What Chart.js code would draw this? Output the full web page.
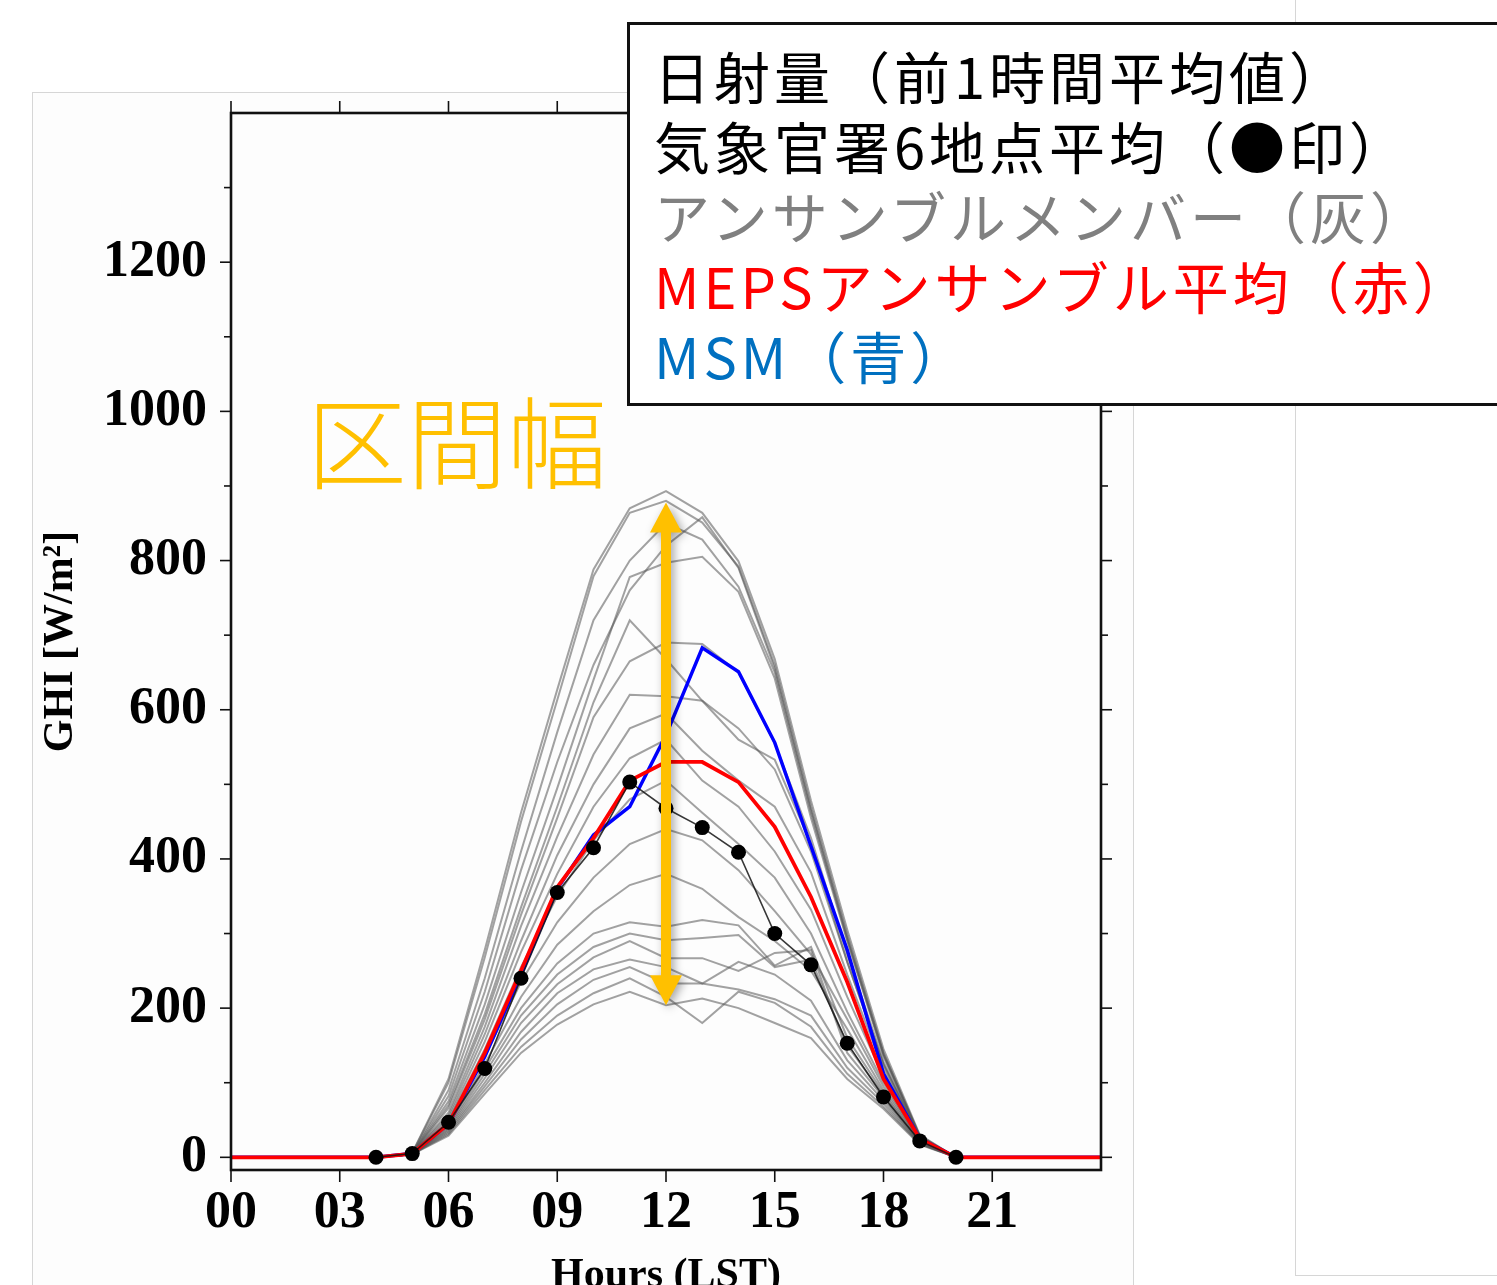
<!DOCTYPE html>
<html>
<head>
<meta charset="utf-8">
<script src="https://cdn.jsdelivr.net/npm/chart.js@4.4.1/dist/chart.umd.min.js"></script>
<style>
  html, body { margin: 0; padding: 0; width: 1497px; height: 1285px; overflow: hidden; background: #ffffff; }
  .panel { position: absolute; box-sizing: border-box; border: 1px solid #d6d6d6; }
  #leftPanel { left: 32px; top: 92px; width: 1102px; height: 1300px; background: #fdfdfd; }
  #rightPanel { left: 1295px; top: -2px; width: 220px; height: 1278px; background: #ffffff; }
  #chartBox { position: absolute; left: 0; top: 0; width: 1497px; height: 1320px; }
  #legendBox {
    position: absolute; left: 627px; top: 22px; width: 900px; height: 384px;
    box-sizing: border-box; border: 3px solid #111; background: #ffffff;
    padding: 15px 0 0 24px;
    font-family: "Noto Sans CJK JP", "Noto Sans", sans-serif; font-size: 56px; line-height: 70px;
    letter-spacing: 4px; white-space: nowrap;
  }
  #spanLabel {
    position: absolute; left: 307px; top: 388px;
    font-family: "Noto Sans CJK JP", sans-serif; font-weight: 300; font-size: 100px; line-height: 1;
    color: #ffc000;
  }
</style>
</head>
<body>
<div id="leftPanel" class="panel"></div>
<div id="rightPanel" class="panel"></div>
<div id="chartBox"><canvas id="ghi" width="1497" height="1320"></canvas></div>
<div id="spanLabel">区間幅</div>
<div id="legendBox">
  <div style="color:#000000">日射量（前1時間平均値）</div>
  <div style="color:#000000">気象官署6地点平均（●印）</div>
  <div style="color:#808080">アンサンブルメンバー（灰）</div>
  <div style="color:#ff0000">MEPSアンサンブル平均（赤）</div>
  <div style="color:#0070c0">MSM（青）</div>
</div>
<script>
// Hours of the day (LST)
const hours = [0,1,2,3,4,5,6,7,8,9,10,11,12,13,14,15,16,17,18,19,20,21,22,23,24];
const xTickHours = [0,3,6,9,12,15,18,21];
const yTickValues = [0,200,400,600,800,1000,1200];
const yMinorTicks = [0,100,200,300,400,500,600,700,800,900,1000,1100,1200,1300];

// Observed GHI, mean of 6 JMA stations [W/m2]
const obsMean = [null,null,null,null,0,5,47,119,240,355,415,503,468,442,409,300,258,153,81,22,0,null,null,null,null];
// MEPS ensemble mean
const mepsMean = [0,0,0,0,0,5,45,140,250,362,428,505,530,530,503,443,349,235,105,25,0,0,0,0,0];
// MSM deterministic forecast
const msm = [0,0,0,0,0,5,45,135,245,360,432,470,566,683,651,556,417,278,112,25,0,0,0,0,0];

// MEPS ensemble members
const member01 = [0,0,0,0,0,6,105,278,462,627,788,870,893,864,799,668,478,305,145,30,0,0,0,0,0];
const member02 = [0,0,0,0,0,6,100,268,450,613,779,864,880,851,792,660,470,298,140,29,0,0,0,0,0];
const member03 = [0,0,0,0,0,5,90,240,410,570,720,800,850,828,765,650,462,292,138,28,0,0,0,0,0];
const member04 = [0,0,0,0,0,5,82,222,385,530,660,760,820,858,790,655,466,295,138,28,0,0,0,0,0];
const member05 = [0,0,0,0,0,5,75,205,355,495,640,778,797,805,758,642,455,290,135,27,0,0,0,0,0];
const member06 = [0,0,0,0,0,5,70,192,335,470,610,720,668,612,560,533,420,262,125,26,0,0,0,0,0];
const member07 = [0,0,0,0,0,5,66,185,325,455,590,665,690,688,650,555,428,272,128,26,0,0,0,0,0];
const member08 = [0,0,0,0,0,5,60,175,310,430,540,620,618,612,575,520,410,262,124,25,0,0,0,0,0];
const member09 = [0,0,0,0,0,5,56,165,290,405,500,575,595,545,505,470,382,245,118,24,0,0,0,0,0];
const member10 = [0,0,0,0,0,5,52,155,275,380,470,535,560,505,470,410,332,215,108,23,0,0,0,0,0];
const member11 = [0,0,0,0,0,4,49,145,255,350,425,480,505,462,420,375,300,195,100,22,0,0,0,0,0];
const member12 = [0,0,0,0,0,4,46,135,235,315,375,420,440,425,385,330,272,185,95,22,0,0,0,0,0];
const member13 = [0,0,0,0,0,4,43,125,215,285,330,365,380,360,322,290,250,172,90,21,0,0,0,0,0];
const member14 = [0,0,0,0,0,4,41,118,200,260,300,315,309,318,311,257,282,160,86,20,0,0,0,0,0];
const member15 = [0,0,0,0,0,4,39,112,190,245,282,300,291,294,298,255,265,150,83,20,0,0,0,0,0];
const member16 = [0,0,0,0,0,4,37,106,180,232,268,290,267,267,250,274,278,140,80,19,0,0,0,0,0];
const member17 = [0,0,0,0,0,4,35,100,168,220,252,265,255,233,262,245,210,130,76,19,0,0,0,0,0];
const member18 = [0,0,0,0,0,4,33,95,158,205,238,255,233,233,225,212,190,120,72,18,0,0,0,0,0];
const member19 = [0,0,0,0,0,4,31,90,148,190,220,240,215,180,222,207,175,112,68,18,0,0,0,0,0];
const member20 = [0,0,0,0,0,4,29,85,140,178,205,222,204,213,200,180,160,105,65,17,0,0,0,0,0];
const members = [member01,member02,member03,member04,member05,member06,member07,member08,member09,member10,
                 member11,member12,member13,member14,member15,member16,member17,member18,member19,member20];

// Spread arrow at noon: [hour, lower value, upper value]
const spreadArrow = [12, 204, 878];

const toPoints = vals => hours.map((h, i) => ({ x: h, y: vals[i] }));

const datasets = [
  { label: 'obs', data: toPoints(obsMean), borderColor: 'rgba(20,20,20,0.85)', borderWidth: 1.6,
    pointRadius: 7.5, pointBackgroundColor: '#000', pointBorderColor: '#000', pointBorderWidth: 0, order: 0 },
  { label: 'MEPS mean', data: toPoints(mepsMean), borderColor: '#ff0000', borderWidth: 3.8, pointRadius: 0, order: 1 },
  { label: 'MSM', data: toPoints(msm), borderColor: '#0000ff', borderWidth: 3.5, pointRadius: 0, order: 2 }
];
members.forEach((m, i) => datasets.push({
  label: 'member ' + (i + 1), data: toPoints(m), borderColor: 'rgba(85,85,85,0.55)', borderWidth: 2,
  pointRadius: 0, order: 3
}));

const serif = '"Liberation Serif", "Times New Roman", serif';

function strokeLine(ctx, x1, y1, x2, y2) {
  ctx.beginPath(); ctx.moveTo(x1, y1); ctx.lineTo(x2, y2); ctx.stroke();
}

// Orange double-headed arrow marking the ensemble spread
const spreadPlugin = {
  id: 'spread',
  afterDatasetsDraw(chart) {
    const { ctx, scales: { x, y } } = chart;
    const cx = x.getPixelForValue(spreadArrow[0]);
    const yBot = y.getPixelForValue(spreadArrow[1]);
    const yTop = y.getPixelForValue(spreadArrow[2]);
    const head = 30, halfHead = 16, halfShaft = 5;
    ctx.save();
    ctx.shadowColor = 'rgba(0,0,0,0.35)';
    ctx.shadowBlur = 10; ctx.shadowOffsetX = 3; ctx.shadowOffsetY = 3;
    ctx.fillStyle = '#ffc000';
    ctx.beginPath();
    ctx.moveTo(cx, yTop);
    ctx.lineTo(cx + halfHead, yTop + head);
    ctx.lineTo(cx + halfShaft, yTop + head);
    ctx.lineTo(cx + halfShaft, yBot - head);
    ctx.lineTo(cx + halfHead, yBot - head);
    ctx.lineTo(cx, yBot);
    ctx.lineTo(cx - halfHead, yBot - head);
    ctx.lineTo(cx - halfShaft, yBot - head);
    ctx.lineTo(cx - halfShaft, yTop + head);
    ctx.lineTo(cx - halfHead, yTop + head);
    ctx.closePath();
    ctx.fill();
    ctx.restore();
  }
};

// Box frame with outward ticks on all four sides
const framePlugin = {
  id: 'frame',
  afterDraw(chart) {
    const { ctx, chartArea: a, scales: { x, y } } = chart;
    ctx.save();
    ctx.strokeStyle = '#111';
    ctx.lineWidth = 1.6;
    yMinorTicks.forEach(v => {
      const py = y.getPixelForValue(v);
      const len = v % 200 === 0 ? 11 : 7;
      strokeLine(ctx, a.left - len, py, a.left, py);
      strokeLine(ctx, a.right, py, a.right + len, py);
    });
    xTickHours.forEach(h => {
      const px = x.getPixelForValue(h);
      strokeLine(ctx, px, a.bottom, px, a.bottom + 12);
      strokeLine(ctx, px, a.top - 12, px, a.top);
    });
    ctx.lineWidth = 2.6;
    ctx.strokeRect(a.left, a.top, a.right - a.left, a.bottom - a.top);
    ctx.restore();
  }
};

new Chart(document.getElementById('ghi'), {
  type: 'line',
  data: { datasets },
  options: {
    responsive: false,
    animation: false,
    layout: { padding: { left: 0, top: 113, right: 396, bottom: 0 } },
    plugins: { legend: { display: false }, tooltip: { enabled: false } },
    elements: { line: { tension: 0 } },
    scales: {
      x: {
        type: 'linear', min: 0, max: 24,
        afterBuildTicks: s => { s.ticks = xTickHours.map(v => ({ value: v })); },
        afterFit: s => { s.height = 150; },
        grid: { display: false, drawTicks: false },
        border: { display: false },
        ticks: {
          padding: 12, color: '#000',
          font: { family: serif, weight: 'bold', size: 52 },
          callback: v => String(v).padStart(2, '0')
        },
        title: {
          display: true, text: 'Hours (LST)', color: '#000',
          font: { family: serif, weight: 'bold', size: 42 },
          padding: { top: 0, bottom: 19 }
        }
      },
      y: {
        type: 'linear', min: -17, max: 1400,
        afterBuildTicks: s => { s.ticks = yTickValues.map(v => ({ value: v })); },
        afterFit: s => { s.width = 231; },
        grid: { display: false, drawTicks: false },
        border: { display: false },
        ticks: {
          padding: 24, color: '#000',
          font: { family: serif, weight: 'bold', size: 52 },
          callback: v => String(v)
        },
        title: {
          display: true, text: 'GHI [W/m²]', color: '#000',
          font: { family: serif, weight: 'bold', size: 42 },
          padding: { top: 36, bottom: 0 }
        }
      }
    }
  },
  plugins: [spreadPlugin, framePlugin]
});
</script>
</body>
</html>
